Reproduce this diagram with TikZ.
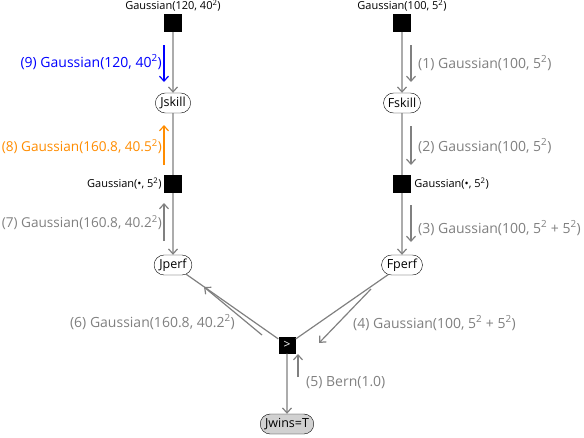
\documentclass[tikz,border=0pt]{standalone}
\usepackage{fontspec}
\setmainfont{Open Sans}
\usetikzlibrary{arrows.meta,shapes.misc,positioning}
\definecolor{msggray}{RGB}{128,128,128}
\definecolor{msgblue}{RGB}{0,0,255}
\definecolor{msgorange}{RGB}{255,140,0}

\begin{document}
\begin{tikzpicture}[x=1pt, y=-1pt,
        factor/.style={fill=black, minimum size=18pt, inner sep=0pt},
        var/.style={draw=black, fill=white, rounded rectangle, minimum height=20pt, inner xsep=3pt, inner ysep=1pt, font=\fontsize{12.5}{15}\selectfont},
        edge/.style={draw=msggray, line width=1.2pt},
        tip/.style={-{Straight Barb[length=5pt,width=9pt]}},
        msg/.style={msggray, line width=1.2pt, tip},
        msglabel/.style={font=\fontsize{14}{16}\selectfont, text=msggray, inner sep=0pt},
        tightlabel/.style={msglabel, font=\fontsize{13.6}{16}\selectfont},
        prior/.style={font=\fontsize{11}{13}\selectfont, inner sep=0pt}
    ]
    \useasboundingbox (0,0) rectangle (584,437);

    % left column
    \node[factor] (fj1) at (173,23) {};
    \node[prior, above=2pt of fj1] (fj1label) {Gaussian(120, 40\textsuperscript{2})};
    \node[var] (jskill) at (173,103) {Jskill};
    \node[factor] (fj2) at (173,184) {};
    \node[prior, left=2pt of fj2] (fj2label) {Gaussian(•, 5\textsuperscript{2})};
    \node[var] (jperf) at (173,265) {Jperf};

    % right column
    \node[factor] (ff1) at (402,23) {};
    \node[prior, above=2pt of ff1] (ff1label) {Gaussian(100, 5\textsuperscript{2})};
    \node[var] (fskill) at (402,103) {Fskill};
    \node[factor] (ff2) at (402,184) {};
    \node[prior, right=3pt of ff2] (ff2label) {Gaussian(•, 5\textsuperscript{2})};
    \node[var] (fperf) at (402,265) {Fperf};

    % comparison and observation
    \node[factor, minimum size=17pt, text=white, font=\fontsize{12}{14}\selectfont] (gt) at (287,345) {>};
    \node[var, fill=black!18] (jwins) at (287,424) {Jwins=T};

    \draw[edge, tip] (fj1) -- (jskill);
    \draw[edge] (jskill) -- (fj2);
    \draw[edge, tip] (fj2) -- (jperf);
    \draw[edge, tip] (ff1) -- (fskill);
    \draw[edge] (fskill) -- (ff2);
    \draw[edge, tip] (ff2) -- (fperf);
    \draw[edge] (jperf) -- (gt);
    \draw[edge] (fperf) -- (gt);
    \draw[edge, tip] (gt) -- (jwins);

    % messages
    \coordinate (m1a) at (411,45);  \coordinate (m1b) at (411,82);
    \coordinate (m2a) at (411,126); \coordinate (m2b) at (411,165);
    \coordinate (m3a) at (411,205); \coordinate (m3b) at (411,242);
    \coordinate (m4a) at (371,289); \coordinate (m4b) at (319,343);
    \coordinate (m5a) at (298,377); \coordinate (m5b) at (298,354);
    \coordinate (m6a) at (262,335); \coordinate (m6b) at (204,287);
    \coordinate (m7a) at (164,241); \coordinate (m7b) at (164,203);
    \coordinate (m8a) at (164,165); \coordinate (m8b) at (164,125);
    \coordinate (m9a) at (164,45);  \coordinate (m9b) at (164,82);

    \draw[msg] (m1a) -- (m1b);
    \node[msglabel, anchor=west] (m1) at (418,63) {(1) Gaussian(100, 5\textsuperscript{2})};
    \draw[msg] (m2a) -- (m2b);
    \node[msglabel, anchor=west] (m2) at (418,146) {(2) Gaussian(100, 5\textsuperscript{2})};
    \draw[msg] (m3a) -- (m3b);
    \node[msglabel, anchor=west] (m3) at (418,228) {(3) Gaussian(100, 5\textsuperscript{2} + 5\textsuperscript{2})};
    \draw[msg] (m4a) -- (m4b);
    \node[msglabel, anchor=west] (m4) at (353,323) {(4) Gaussian(100, 5\textsuperscript{2} + 5\textsuperscript{2})};
    \draw[msg] (m5a) -- (m5b);
    \node[msglabel, anchor=west] (m5) at (306,383) {(5) Bern(1.0)};
    \draw[msg] (m6a) -- (m6b);
    \node[msglabel, anchor=east] (m6) at (235,322) {(6) Gaussian(160.8, 40.2\textsuperscript{2})};
    \draw[msg] (m7a) -- (m7b);
    \node[tightlabel, anchor=east] (m7) at (162,223) {(7) Gaussian(160.8, 40.2\textsuperscript{2})};
    \draw[msg, msgorange] (m8a) -- (m8b);
    \node[tightlabel, anchor=east, text=msgorange] (m8) at (162,147) {(8) Gaussian(160.8, 40.5\textsuperscript{2})};
    \draw[msg, msgblue] (m9a) -- (m9b);
    \node[msglabel, anchor=east, text=msgblue] (m9) at (162,62) {(9) Gaussian(120, 40\textsuperscript{2})};

\end{tikzpicture}
\end{document}
